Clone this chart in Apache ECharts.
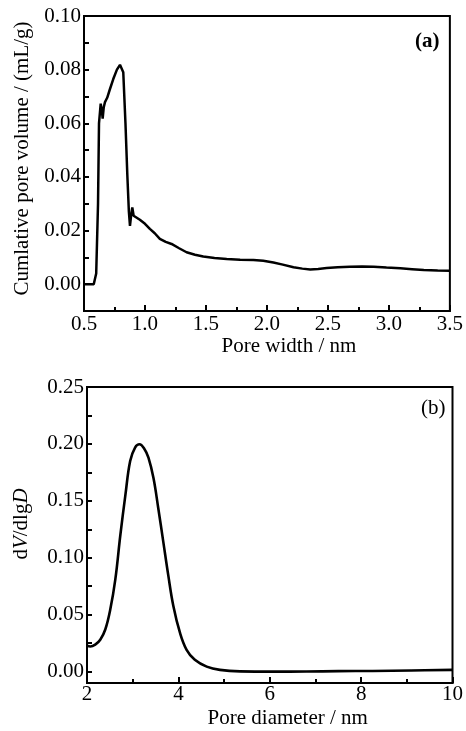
<!DOCTYPE html>
<html><head><meta charset="utf-8">
<script src="https://cdn.jsdelivr.net/npm/echarts@6/dist/echarts.min.js"></script>
<style>html,body{margin:0;padding:0;background:#fff}#c{width:466px;height:731px}</style>
</head><body><div id="c"></div>
<script>
// Panel (a): cumulative pore volume vs pore width
const widthNm = [0.50,0.58,0.60,0.615,0.623,0.637,0.648,0.653,0.662,0.672,0.69,0.711,0.74,0.77,0.795,0.809,0.822,0.84,0.855,0.868,0.877,0.886,0.896,0.907,0.918,0.958,1.00,1.04,1.08,1.122,1.17,1.218,1.28,1.341,1.41,1.478,1.57,1.67,1.78,1.889,1.97,2.053,2.13,2.218,2.29,2.355,2.42,2.49,2.58,2.68,2.78,2.875,2.98,3.094,3.19,3.286,3.40,3.50];
const cumVolume = [0.000,0.000,0.004,0.030,0.060,0.0673,0.064,0.0617,0.066,0.0679,0.0695,0.0725,0.0765,0.0800,0.0818,0.0822,0.0790,0.0600,0.0410,0.0270,0.0217,0.0255,0.0286,0.0255,0.0248,0.0240,0.0225,0.0206,0.0190,0.0169,0.0158,0.0150,0.0134,0.0119,0.0110,0.0103,0.0098,0.0094,0.0091,0.0090,0.0087,0.0081,0.0073,0.0063,0.0058,0.0055,0.0057,0.0060,0.0063,0.0065,0.0066,0.0065,0.0062,0.0059,0.0056,0.0053,0.0051,0.0050];
// Panel (b): dV/dlgD vs pore diameter
const diamNm = [2.00,2.073,2.18,2.29,2.40,2.51,2.62,2.73,2.84,2.945,3.055,3.15,3.25,3.345,3.455,3.56,3.67,3.78,3.89,4.036,4.18,4.36,4.62,4.91,5.35,6.07,6.80,7.50,8.25,9.10,10.0];
const dVdlgD = [0.0228,0.022,0.0237,0.028,0.037,0.0547,0.081,0.120,0.155,0.185,0.197,0.1997,0.196,0.188,0.170,0.1435,0.114,0.0843,0.0577,0.034,0.0192,0.0104,0.0044,0.0015,0.0002,0.0000,0.0001,0.0004,0.0006,0.0010,0.0015];
const yTicksA = [0,0.01,0.02,0.03,0.04,0.05,0.06,0.07,0.08,0.09,0.10];
const yLabelsA = [0,0.02,0.04,0.06,0.08,0.10];
const yTicksB = [0,0.025,0.05,0.075,0.10,0.125,0.15,0.175,0.20,0.225,0.25];
const yLabelsB = [0,0.05,0.10,0.15,0.20,0.25];

const F = 'Liberation Serif, Times New Roman, serif';
const FS = 21;
const lab = {color:'#000', fontFamily:F, fontSize:FS};
const axLine = {show:true, onZero:false, lineStyle:{color:'#000', width:2}};
function zip(a,b){return a.map((v,i)=>[v,b[i]]);}

const chart = echarts.init(document.getElementById('c'));
chart.setOption({
  animation:false,
  backgroundColor:'#fff',
  grid:[
    {left:84, right:16, top:16, height:295, show:true, borderColor:'#000', borderWidth:2},
    {left:87, right:13, top:387, height:296, show:true, borderColor:'#000', borderWidth:2}
  ],
  xAxis:[
    {type:'value', gridIndex:0, min:0.5, max:3.5, interval:0.5,
     axisLine:axLine, splitLine:{show:false},
     axisTick:{inside:true, length:6, lineStyle:{color:'#000', width:2}},
     minorTick:{show:true, splitNumber:2, length:4, lineStyle:{color:'#000', width:2}},
     axisLabel:Object.assign({margin:3, formatter:v=>v.toFixed(1)}, lab),
     name:'Pore width / nm', nameLocation:'middle', nameGap:22,
     nameTextStyle:Object.assign({padding:[0,0,0,44]}, lab)},
    {type:'value', gridIndex:1, min:2, max:10, interval:2,
     axisLine:axLine, splitLine:{show:false},
     axisTick:{inside:true, length:6, lineStyle:{color:'#000', width:2}},
     minorTick:{show:true, splitNumber:2, length:4, lineStyle:{color:'#000', width:2}},
     axisLabel:Object.assign({margin:1}, lab),
     name:'Pore diameter / nm', nameLocation:'middle', nameGap:25,
     nameTextStyle:Object.assign({padding:[0,0,0,36]}, lab)}
  ],
  yAxis:[
    {type:'value', gridIndex:0, min:-0.01, max:0.10,
     axisLine:axLine, splitLine:{show:false},
     axisTick:{inside:true, length:5, customValues:yTicksA, lineStyle:{color:'#000', width:2}},
     axisLabel:Object.assign({margin:3, customValues:yLabelsA, formatter:v=>v.toFixed(2)}, lab),
     name:'Cumlative pore volume / (mL/g)', nameLocation:'middle', nameGap:50, nameRotate:90,
     nameTextStyle:Object.assign({padding:[0,0,0,10]}, lab)},
    {type:'value', gridIndex:1, min:-0.01, max:0.25,
     axisLine:axLine, splitLine:{show:false},
     axisTick:{inside:true, length:5, customValues:yTicksB, lineStyle:{color:'#000', width:2}},
     axisLabel:Object.assign({margin:3, customValues:yLabelsB, formatter:v=>v.toFixed(2)}, lab),
     name:'{r|d}{i|V}{r|/dlg}{i|D}', nameLocation:'middle', nameGap:55, nameRotate:90,
     nameTextStyle:{color:'#000', fontFamily:F, fontSize:FS, padding:[0,0,0,22],
       rich:{r:{fontFamily:F, fontSize:FS, color:'#000'}, i:{fontFamily:F, fontSize:FS, fontStyle:'italic', color:'#000'}}}}
  ],
  series:[
    {type:'line', xAxisIndex:0, yAxisIndex:0, data:zip(widthNm,cumVolume), showSymbol:false,
     lineStyle:{color:'#000', width:2.5}, smooth:false},
    {type:'line', xAxisIndex:1, yAxisIndex:1, data:zip(diamNm,dVdlgD), showSymbol:false,
     lineStyle:{color:'#000', width:2.6}, smooth:0.4}
  ],
  graphic:[
    {type:'text', left:415, top:31, style:{text:'(a)', fill:'#000', font:'bold 21px Liberation Serif'}},
    {type:'text', left:421, top:398, style:{text:'(b)', fill:'#000', font:'21px Liberation Serif'}}
  ]
});
</script></body></html>
